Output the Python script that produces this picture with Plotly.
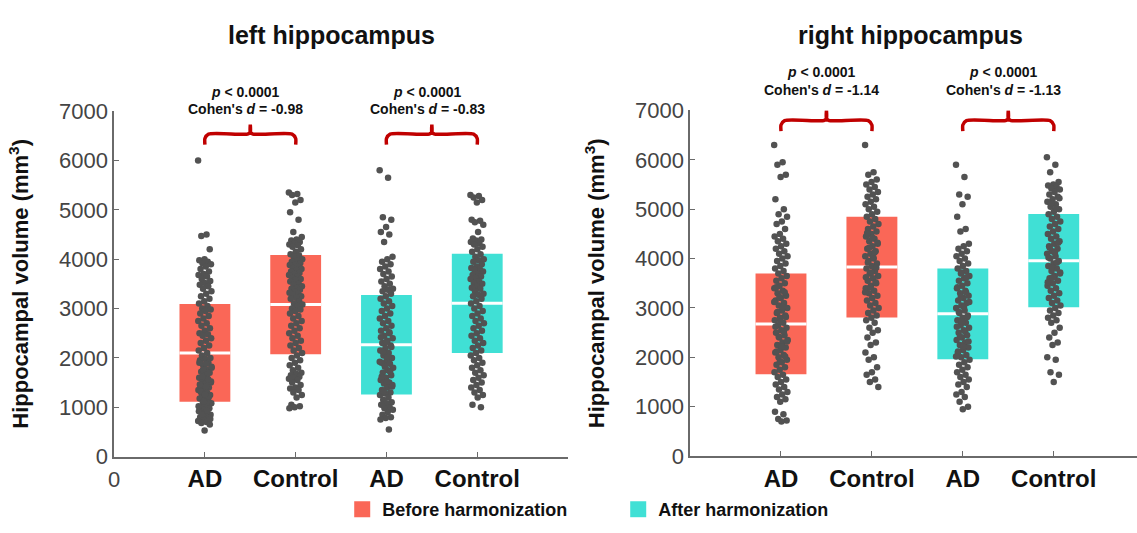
import plotly.graph_objects as go

# ---------------- data ----------------
categories = ["AD", "Control", "AD", "Control"]
groups = ["Before harmonization", "Before harmonization", "After harmonization", "After harmonization"]

# box = mean +/- SD, mm^3
left_means = [2100, 3080, 2268, 3105]
left_sds = [990, 1005, 1007, 1005]
right_means = [2678, 3828, 2882, 3958]
right_sds = [1020, 1020, 920, 945]

left_p = ["0.0001", "0.0001"]
left_d = ["-0.98", "-0.83"]
right_p = ["0.0001", "0.0001"]
right_d = ["-1.14", "-1.13"]

# individual subject volumes
left_ad_before = [6000, 4500, 4470, 4200, 4000, 3980, 3950, 3920, 3900, 3850, 3800, 3750, 3700, 3680, 3650, 3600,
                  3560, 3520, 3480, 3450, 3400, 3350, 3300, 3250, 3200, 3150, 3100, 3050, 3000, 2980, 2950, 2900,
                  2850, 2800, 2750, 2700, 2650, 2600, 2550, 2500, 2480, 2450, 2400, 2350, 2300, 2250, 2200, 2150,
                  2100, 2050, 2000, 1980, 1950, 1900, 1850, 1800, 1760, 1720, 1700, 1650, 1600, 1580, 1550, 1500,
                  1480, 1450, 1400, 1380, 1350, 1300, 1280, 1250, 1200, 1180, 1150, 1100, 1080, 1050, 1000, 980,
                  950, 920, 900, 880, 850, 820, 800, 780, 750, 720, 700, 680, 650, 530, 1900, 1700, 1620, 1520,
                  1420, 1320, 1220, 1120, 1020, 930, 860, 760, 1260, 1460, 1560, 1760, 1820, 1880]
left_ctl_before = [5350, 5320, 5300, 5200, 5150, 4950, 4800, 4550, 4450, 4400, 4380, 4350, 4320, 4300, 4280, 4250,
                   4200, 4150, 4100, 4080, 4050, 4000, 3980, 3950, 3920, 3900, 3880, 3850, 3820, 3800, 3780, 3750,
                   3720, 3700, 3680, 3650, 3620, 3600, 3580, 3550, 3500, 3480, 3450, 3420, 3400, 3380, 3350, 3320,
                   3300, 3280, 3250, 3220, 3200, 3150, 3100, 3080, 3050, 3000, 2980, 2950, 2900, 2850, 2800, 2750,
                   2700, 2650, 2600, 2550, 2500, 2450, 2400, 2350, 2300, 2250, 2200, 2150, 2100, 2050, 2000, 1950,
                   1900, 1850, 1800, 1750, 1700, 1680, 1650, 1620, 1600, 1580, 1550, 1500, 1450, 1400, 1380, 1350,
                   1300, 1250, 1200, 1050, 1020, 1000, 980]
left_ad_after = [5800, 5650, 4850, 4800, 4650, 4550, 4500, 4350, 4050, 4000, 3950, 3900, 3850, 3800, 3750, 3700,
                 3650, 3600, 3550, 3500, 3450, 3400, 3380, 3350, 3300, 3250, 3200, 3150, 3100, 3050, 3000, 2950,
                 2900, 2850, 2800, 2750, 2700, 2650, 2600, 2550, 2500, 2450, 2400, 2350, 2300, 2250, 2200, 2150,
                 2100, 2050, 2000, 1950, 1900, 1880, 1850, 1800, 1750, 1700, 1650, 1600, 1550, 1500, 1480, 1450,
                 1400, 1350, 1300, 1280, 1250, 1200, 1150, 1100, 1080, 1050, 1000, 980, 950, 900, 850, 800, 780,
                 750, 550, 1320, 1420, 1520, 1620, 1720, 1820, 1920, 2020, 2120, 2220, 2320, 2420, 2520]
left_ctl_after = [5300, 5280, 5250, 5200, 5150, 4800, 4780, 4750, 4700, 4550, 4420, 4400, 4380, 4350, 4320, 4300,
                  4250, 4200, 4150, 4100, 4050, 4000, 3980, 3950, 3900, 3850, 3820, 3800, 3780, 3750, 3700, 3680,
                  3650, 3620, 3600, 3550, 3520, 3500, 3450, 3420, 3400, 3350, 3300, 3280, 3250, 3200, 3150, 3100,
                  3050, 3000, 2950, 2900, 2850, 2800, 2750, 2700, 2650, 2600, 2550, 2500, 2450, 2400, 2350, 2300,
                  2250, 2200, 2150, 2100, 2050, 2000, 1950, 1900, 1850, 1800, 1750, 1700, 1650, 1600, 1550, 1500,
                  1450, 1400, 1350, 1300, 1250, 1200, 1050, 1000]
right_ad_before = [6300, 5950, 5900, 5700, 5650, 5200, 5000, 4900, 4850, 4750, 4700, 4600, 4500, 4450, 4400, 4350,
                   4300, 4250, 4200, 4150, 4100, 4050, 4000, 3950, 3900, 3850, 3800, 3750, 3700, 3650, 3600, 3550,
                   3500, 3450, 3400, 3350, 3300, 3250, 3200, 3150, 3100, 3050, 3000, 2950, 2900, 2850, 2800, 2750,
                   2700, 2650, 2600, 2550, 2500, 2450, 2400, 2350, 2300, 2250, 2200, 2150, 2100, 2050, 2000, 1950,
                   1900, 1850, 1800, 1750, 1700, 1650, 1600, 1550, 1500, 1450, 1400, 1350, 1300, 1250, 1200, 1150,
                   1100, 900, 850, 750, 720, 700, 3420, 3320, 3220, 3120, 3020, 2920, 2820, 2720, 2620, 2520, 2420,
                   2320, 2220, 2120, 2020, 1920]
right_ctl_before = [6300, 5750, 5700, 5600, 5550, 5500, 5450, 5400, 5350, 5300, 5250, 5200, 5150, 5100, 5050, 5000,
                    4950, 4900, 4850, 4800, 4750, 4700, 4650, 4600, 4550, 4500, 4450, 4400, 4350, 4300, 4250, 4200,
                    4150, 4100, 4050, 4000, 3950, 3900, 3850, 3800, 3750, 3700, 3650, 3600, 3550, 3500, 3450, 3400,
                    3350, 3300, 3250, 3200, 3150, 3100, 3050, 3000, 2950, 2900, 2850, 2800, 2750, 2700, 2600, 2550,
                    2500, 2400, 2300, 2250, 2100, 2000, 1950, 1800, 1700, 1650, 1550, 1500, 1400, 4020, 3920, 3820,
                    3720, 3620, 4120, 4220, 4320, 4420, 4520, 3520, 3420, 3320]
right_ad_after = [5900, 5650, 5300, 5250, 5100, 4850, 4600, 4550, 4300, 4250, 4200, 4150, 4100, 4050, 4000, 3950,
                  3900, 3850, 3800, 3750, 3700, 3650, 3600, 3550, 3500, 3450, 3400, 3350, 3300, 3250, 3200, 3150,
                  3100, 3050, 3000, 2950, 2900, 2850, 2800, 2750, 2700, 2650, 2600, 2550, 2500, 2450, 2400, 2350,
                  2300, 2250, 2200, 2150, 2100, 2050, 2000, 1950, 1900, 1850, 1800, 1750, 1700, 1650, 1600, 1550,
                  1500, 1450, 1400, 1300, 1250, 1200, 1100, 1000, 950, 3420, 3320, 3220, 3120, 3020, 2920, 2820,
                  2720, 2620, 2520, 2420, 2320, 2220, 2120, 3620, 3720, 2020]
right_ctl_after = [6050, 5900, 5750, 5550, 5500, 5480, 5450, 5420, 5400, 5350, 5300, 5250, 5200, 5150, 5100, 5050,
                   5000, 4950, 4900, 4850, 4800, 4750, 4700, 4650, 4600, 4550, 4500, 4450, 4400, 4350, 4300, 4250,
                   4200, 4150, 4100, 4050, 4000, 3950, 3900, 3850, 3800, 3750, 3700, 3650, 3600, 3550, 3500, 3450,
                   3400, 3350, 3300, 3250, 3200, 3150, 3100, 3050, 3000, 2950, 2900, 2850, 2800, 2750, 2700, 2600,
                   2500, 2400, 2300, 2250, 2000, 1950, 1700, 1650, 1500, 4020, 3920, 3820, 3720, 4120, 4220, 4320,
                   3620, 3520, 5020, 5120, 5220]

left_points = [left_ad_before, left_ctl_before, left_ad_after, left_ctl_after]
right_points = [right_ad_before, right_ctl_before, right_ad_after, right_ctl_after]

# ---------------- layout geometry ----------------
W, H = 1137, 533


def fx(px):  # pixel x -> paper fraction
    return px / W


def fy(py):  # pixel y (from top) -> paper fraction
    return 1 - py / H


FONT = "Arial, Liberation Sans, sans-serif"
SALMON = "#FA6757"
TURQ = "#40E0D5"
DOT = "#525252"
RED = "#C00000"
AXC = "#6a6a6a"
colors = [SALMON, SALMON, TURQ, TURQ]
positions = [1, 2, 3, 4]
BOX_W = 0.56
HALF = BOX_W / 2
PX_PER_UNIT = 91.4

fig = go.Figure()


def add_panel(means, sds, points, xa, ya):
    fig.add_trace(go.Bar(
        x=positions, y=[2 * s for s in sds], base=[m - s for m, s in zip(means, sds)],
        width=BOX_W, marker=dict(color=colors, line=dict(width=0)),
        xaxis=xa, yaxis=ya, showlegend=False, hoverinfo="skip"))
    mx, my = [], []
    for p, m in zip(positions, means):
        mx += [p - HALF, p + HALF, None]
        my += [m, m, None]
    fig.add_trace(go.Scatter(x=mx, y=my, mode="lines", line=dict(color="white", width=3),
                             xaxis=xa, yaxis=ya, showlegend=False, hoverinfo="skip"))
    for p, vals in zip(positions, points):
        xs = [p + ((i * 0.6180339) % 1.0 - 0.5) * 0.15 for i in range(len(vals))]
        fig.add_trace(go.Scatter(x=xs, y=vals, mode="markers",
                                 marker=dict(color=DOT, size=6.5, line=dict(width=0)),
                                 xaxis=xa, yaxis=ya, showlegend=False, hoverinfo="skip"))


def add_braces(xa, ya, low, top, spike):
    for a, b in [(positions[0], positions[1]), (positions[2], positions[3])]:
        mid = (a + b) / 2
        fig.add_trace(go.Scatter(
            x=[a, a, a + 0.04, mid - 0.03, mid, mid, mid, mid + 0.03, b - 0.04, b, b],
            y=[low, top - 90, top, top, top + 40, spike, top + 40, top, top, top - 90, low],
            mode="lines", line=dict(color=RED, width=3.5, shape="spline", smoothing=0.6),
            xaxis=xa, yaxis=ya, showlegend=False, hoverinfo="skip", cliponaxis=False))


add_panel(left_means, left_sds, left_points, "x", "y")
add_panel(right_means, right_sds, right_points, "x2", "y2")
add_braces("x", "y", 6322, 6535, 6728)
add_braces("x2", "y2", 6583, 6795, 7000)

fig.add_trace(go.Scatter(x=[None], y=[None], mode="markers", name="<b>Before harmonization</b>",
                         marker=dict(symbol="square", size=16, color=SALMON)))
fig.add_trace(go.Scatter(x=[None], y=[None], mode="markers", name="<b>After harmonization</b>",
                         marker=dict(symbol="square", size=16, color=TURQ)))

annotations = []
for (pv, dv, yp, yd, xa) in [(left_p, left_d, 84, 102, "x"), (right_p, right_d, 63, 82, "x2")]:
    for k, (a, b) in enumerate([(positions[0], positions[1]), (positions[2], positions[3])]):
        mid = (a + b) / 2 - 0.05
        annotations.append(dict(x=mid, y=fy(yp), xref=xa, yref="paper", showarrow=False,
                                xanchor="center", yanchor="middle",
                                text="<b><i>p</i> &lt; " + pv[k] + "</b>",
                                font=dict(family=FONT, size=14, color="#111")))
        annotations.append(dict(x=mid, y=fy(yd), xref=xa, yref="paper", showarrow=False,
                                xanchor="center", yanchor="middle",
                                text="<b>Cohen's <i>d</i> = " + dv[k] + "</b>",
                                font=dict(family=FONT, size=14, color="#111")))

annotations.append(dict(x=fx(327), y=fy(24), xref="paper", yref="paper", showarrow=False,
                        xanchor="center", yanchor="middle", text="<b>left hippocampus</b>",
                        font=dict(family=FONT, size=25, color="#111")))
annotations.append(dict(x=fx(909), y=fy(24), xref="paper", yref="paper", showarrow=False,
                        xanchor="center", yanchor="middle", text="<b>right hippocampus</b>",
                        font=dict(family=FONT, size=25, color="#111")))

x_common = dict(showline=True, linecolor=AXC, linewidth=1.5, ticks="inside", ticklen=5,
                tickcolor=AXC, tickwidth=1, showgrid=False, zeroline=False,
                tickfont=dict(family=FONT, size=24, color="#111"))
y_common = dict(showline=True, linecolor=AXC, linewidth=1.5, ticks="inside", ticklen=5,
                tickcolor=AXC, tickwidth=1, showgrid=False, zeroline=False,
                range=[0, 7000], tickvals=[0, 1000, 2000, 3000, 4000, 5000, 6000, 7000],
                tickfont=dict(family=FONT, size=22, color="#444"),
                title=dict(text="<b>Hippocampal volume (mm<sup>3</sup>)</b>", standoff=24,
                           font=dict(family=FONT, size=22, color="#111")))

tick_l = ["<span style='font-size:22px;color:#444'>0</span>"] + ["<b>" + c + "</b>" for c in categories]
tick_r = ["<b>" + c + "</b>" for c in categories]

left_x0, left_x5 = 108.7, 565.0
right_x0 = 687.7

fig.update_layout(
    width=W, height=H, margin=dict(l=0, r=0, t=0, b=0),
    paper_bgcolor="white", plot_bgcolor="white",
    xaxis=dict(domain=[fx(left_x0), fx(left_x5)], range=[0, 5], anchor="y",
               tickvals=[0] + positions, ticktext=tick_l,
               minor=dict(tickvals=[5], ticks="inside", ticklen=5, tickcolor=AXC, tickwidth=1, showgrid=False),
               **x_common),
    xaxis2=dict(domain=[fx(right_x0), 1.0], range=[0, (W - right_x0) / PX_PER_UNIT], anchor="y2",
                tickvals=positions, ticktext=tick_r, **x_common),
    yaxis=dict(domain=[fy(466.5), fy(104)], anchor="x", **y_common),
    yaxis2=dict(domain=[fy(466), fy(103.3)], anchor="x2", **y_common),
    legend=dict(orientation="h", x=fx(338), xanchor="left", y=fy(522), yanchor="middle",
                entrywidth=231, entrywidthmode="pixels",
                font=dict(family=FONT, size=18, color="#111"),
                bgcolor="rgba(0,0,0,0)", itemclick=False),
    annotations=annotations,
    showlegend=True,
)

fig.write_html("out.html")
